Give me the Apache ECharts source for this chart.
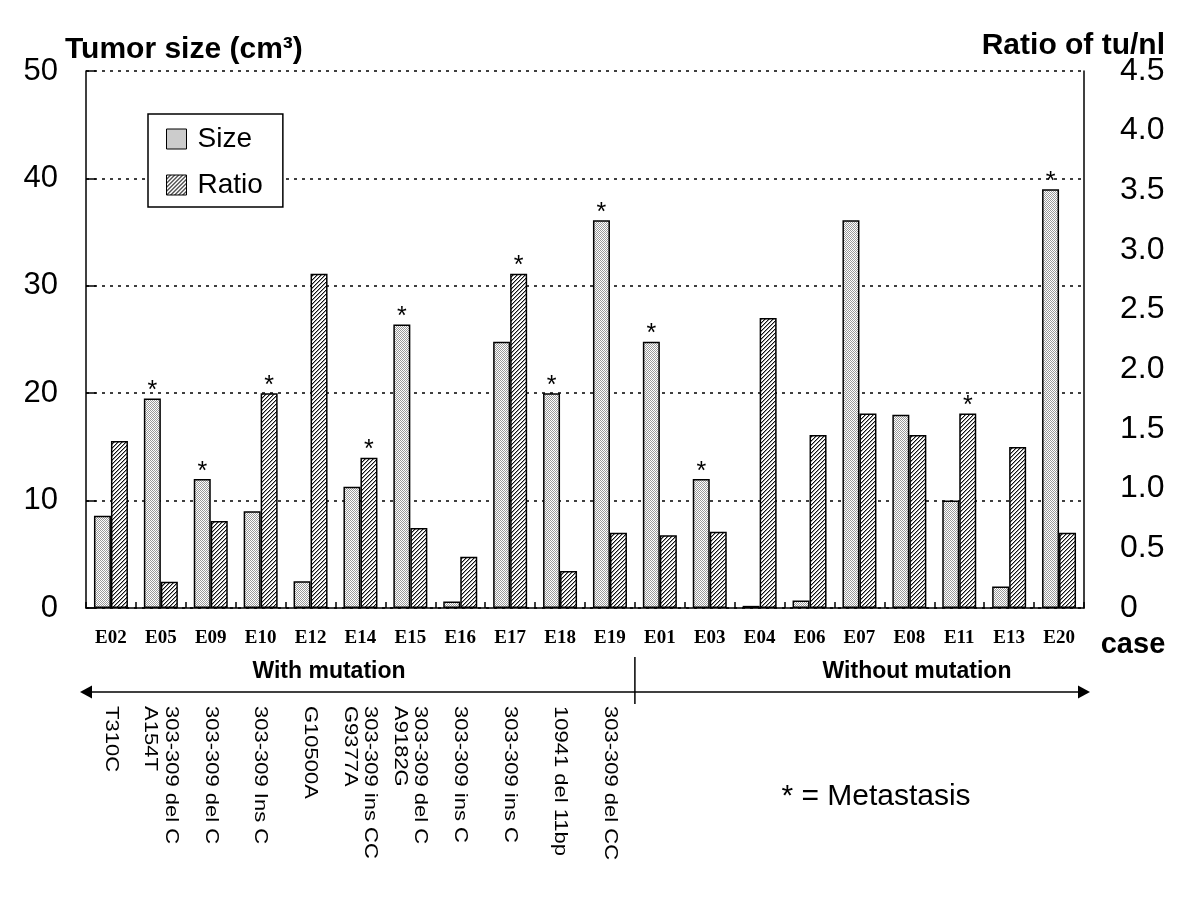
<!DOCTYPE html>
<html><head><meta charset="utf-8">
<script src="https://cdn.jsdelivr.net/npm/echarts@6/dist/echarts.min.js"></script>
<style>html,body{margin:0;padding:0;background:#fff}#c{width:1200px;height:900px}</style>
</head><body><div id="c"></div>
<script>
// ---- data ----
const cases = ['E02','E05','E09','E10','E12','E14','E15','E16','E17','E18','E19','E01','E03','E04','E06','E07','E08','E11','E13','E20'];
const sizeValues  = [8.6, 19.5, 12.0, 9.0, 2.5, 11.3, 26.4, 0.6, 24.8, 20.0, 36.1, 24.8, 12.0, 0.2, 0.7, 36.1, 18.0, 10.0, 2.0, 39.0];
const ratioValues = [1.40, 0.22, 0.73, 1.80, 2.80, 1.26, 0.67, 0.43, 2.80, 0.31, 0.63, 0.61, 0.64, 2.43, 1.45, 1.63, 1.45, 1.63, 1.35, 0.63];
const metastasis  = [false, true, true, true, false, true, true, false, true, true, true, true, true, false, false, false, false, true, false, true];
const mutations = ['T310C', '303-309 del C\nA154T', '303-309 del C', '303-309 Ins C', 'G10500A',
  '303-309 ins CC\nG9377A', '303-309 del C\nA9182G', '303-309 ins C', '303-309 ins C', '10941 del 11bp', '303-309 del CC'];
const groupLabels = ['With mutation', 'Without mutation'];
const groupSplit = 11; // first case without mutation
const sizeAxis  = {min: 0, max: 50, interval: 10};
const ratioAxis = {min: 0, max: 4.5, interval: 0.5};

// ---- patterns ----
function stipple(){
  const c = document.createElement('canvas'); c.width = 2; c.height = 2;
  const g = c.getContext('2d');
  g.fillStyle = '#ffffff'; g.fillRect(0,0,2,2);
  g.fillStyle = '#9a9a9a'; g.fillRect(0,0,1,1); g.fillRect(1,1,1,1);
  return c;
}
function hatch(){
  const n = 4;
  const c = document.createElement('canvas'); c.width = n; c.height = n;
  const g = c.getContext('2d');
  g.fillStyle = '#ffffff'; g.fillRect(0,0,n,n);
  for (let x = 0; x < n; x++) for (let y = 0; y < n; y++) {
    const m = (x + y) % n;
    if (m === n - 1) { g.fillStyle = '#111111'; g.fillRect(x,y,1,1); }
    else if (m === 0) { g.fillStyle = '#9a9a9a'; g.fillRect(x,y,1,1); }
  }
  return c;
}
const sizeFill  = {image: stipple(), repeat: 'repeat'};
const ratioFill = {image: hatch(), repeat: 'repeat'};

const FONT = 'Liberation Sans, Arial, sans-serif';
const starLabel = {show: true, formatter: '*', position: 'top', distance: -5, fontSize: 25, color: '#000', fontFamily: FONT};

const sizeData = sizeValues.map((v, i) => {
  const taller = v / sizeAxis.max >= ratioValues[i] / ratioAxis.max;
  return metastasis[i] && taller ? {value: v, label: starLabel} : v;
});
const ratioData = ratioValues.map((v, i) => {
  const taller = v / ratioAxis.max > sizeValues[i] / sizeAxis.max;
  return metastasis[i] && taller ? {value: v, label: starLabel} : v;
});

const chart = echarts.init(document.getElementById('c'), null, {renderer: 'canvas'});
const G = {left: 86, right: 116, top: 71, bottom: 292};
chart.setOption({
  animation: false,
  backgroundColor: '#fff',
  textStyle: {fontFamily: FONT},
  grid: {left: G.left, right: G.right, top: G.top, bottom: G.bottom, containLabel: false},
  legend: {
    orient: 'vertical', left: 148, top: 114,
    itemWidth: 20, itemHeight: 20, itemGap: 18,
    padding: [11, 20, 8, 18],
    borderColor: '#000', borderWidth: 1.5, backgroundColor: '#fff',
    icon: 'rect',
    itemStyle: {borderColor: '#000', borderWidth: 1},
    textStyle: {fontSize: 28, color: '#000', fontFamily: FONT, padding: [0, 0, 0, 6]},
    data: ['Size', 'Ratio']
  },
  xAxis: {
    type: 'category', data: cases,
    axisLine: {lineStyle: {color: '#000', width: 1.5}},
    axisTick: {show: true, inside: true, length: 6, lineStyle: {color: '#000', width: 1.5}},
    axisLabel: {interval: 0, margin: 21, color: '#000', fontFamily: 'Liberation Serif, Times New Roman, serif', fontWeight: 'bold', fontSize: 19},
    splitLine: {show: false}
  },
  yAxis: [
    {
      type: 'value', min: sizeAxis.min, max: sizeAxis.max, interval: sizeAxis.interval, position: 'left',
      axisLine: {show: true, lineStyle: {color: '#000', width: 1.5}},
      axisTick: {show: true, inside: true, length: 10, lineStyle: {color: '#000', width: 1.5}},
      axisLabel: {margin: 28, fontSize: 31, color: '#000', fontFamily: FONT},
      splitLine: {show: true, lineStyle: {color: '#000', width: 1.5, type: [3, 5]}}
    },
    {
      type: 'value', min: ratioAxis.min, max: ratioAxis.max, interval: ratioAxis.interval, position: 'right',
      axisLine: {show: true, lineStyle: {color: '#000', width: 1.5}},
      axisTick: {show: false},
      axisLabel: {margin: 36, fontSize: 32, color: '#000', fontFamily: FONT,
        formatter: v => v === 0 ? '0' : v.toFixed(1)},
      splitLine: {show: false}
    }
  ],
  series: [
    {name: 'Size', type: 'bar', yAxisIndex: 0, data: sizeData, barWidth: 17, barGap: '0%',
      itemStyle: {color: sizeFill, borderColor: '#000', borderWidth: 1.5}},
    {name: 'Ratio', type: 'bar', yAxisIndex: 1, data: ratioData, barWidth: 17, barGap: '0%',
      itemStyle: {color: ratioFill, borderColor: '#000', borderWidth: 1.5}}
  ]
});

// ---- annotations below the axis ----
const graphics = [];
const txt = (x, y, text, font, align, vAlign, extra) => Object.assign({
  type: 'text', x: x, y: y, silent: true,
  style: {text: text, font: font, fill: '#000', align: align, verticalAlign: vAlign}
}, extra || {});

graphics.push(txt(65, 50, 'Tumor size (cm\u00b3)', 'bold 30px ' + FONT, 'left', 'middle'));
graphics.push(txt(1165, 46, 'Ratio of tu/nl', 'bold 30px ' + FONT, 'right', 'middle'));
graphics.push(txt(1133, 645, 'case', 'bold 29px ' + FONT, 'center', 'middle'));

// group divider position (between categories)
const pA = chart.convertToPixel({xAxisIndex: 0}, cases[groupSplit - 1]);
const pB = chart.convertToPixel({xAxisIndex: 0}, cases[groupSplit]);
const divX = (pA + pB) / 2;
const leftX = G.left, rightX = 1200 - G.right;
const arrowY = 692;
graphics.push({type: 'line', silent: true, shape: {x1: leftX - 4, y1: arrowY, x2: rightX + 4, y2: arrowY}, style: {stroke: '#000', lineWidth: 1.5}});
graphics.push({type: 'polygon', silent: true, shape: {points: [[leftX - 6, arrowY], [leftX + 6, arrowY - 6.5], [leftX + 6, arrowY + 6.5]]}, style: {fill: '#000'}});
graphics.push({type: 'polygon', silent: true, shape: {points: [[rightX + 6, arrowY], [rightX - 6, arrowY - 6.5], [rightX - 6, arrowY + 6.5]]}, style: {fill: '#000'}});
graphics.push({type: 'line', silent: true, shape: {x1: divX, y1: 657, x2: divX, y2: 704}, style: {stroke: '#000', lineWidth: 1.5}});
graphics.push(txt(329, 672, groupLabels[0], 'bold 23px ' + FONT, 'center', 'middle'));
graphics.push(txt(917, 672, groupLabels[1], 'bold 23px ' + FONT, 'center', 'middle'));

mutations.forEach((m, i) => {
  const x = chart.convertToPixel({xAxisIndex: 0}, cases[i]);
  graphics.push({
    type: 'text', x: x, y: 706, rotation: -Math.PI / 2, scaleY: 0.85, silent: true,
    style: {text: m, font: '22px ' + FONT, fill: '#000', align: 'left', verticalAlign: 'middle', lineHeight: 24}
  });
});
graphics.push(txt(876, 797, '* = Metastasis', '30px ' + FONT, 'center', 'middle'));

chart.setOption({graphic: graphics});
</script></body></html>
